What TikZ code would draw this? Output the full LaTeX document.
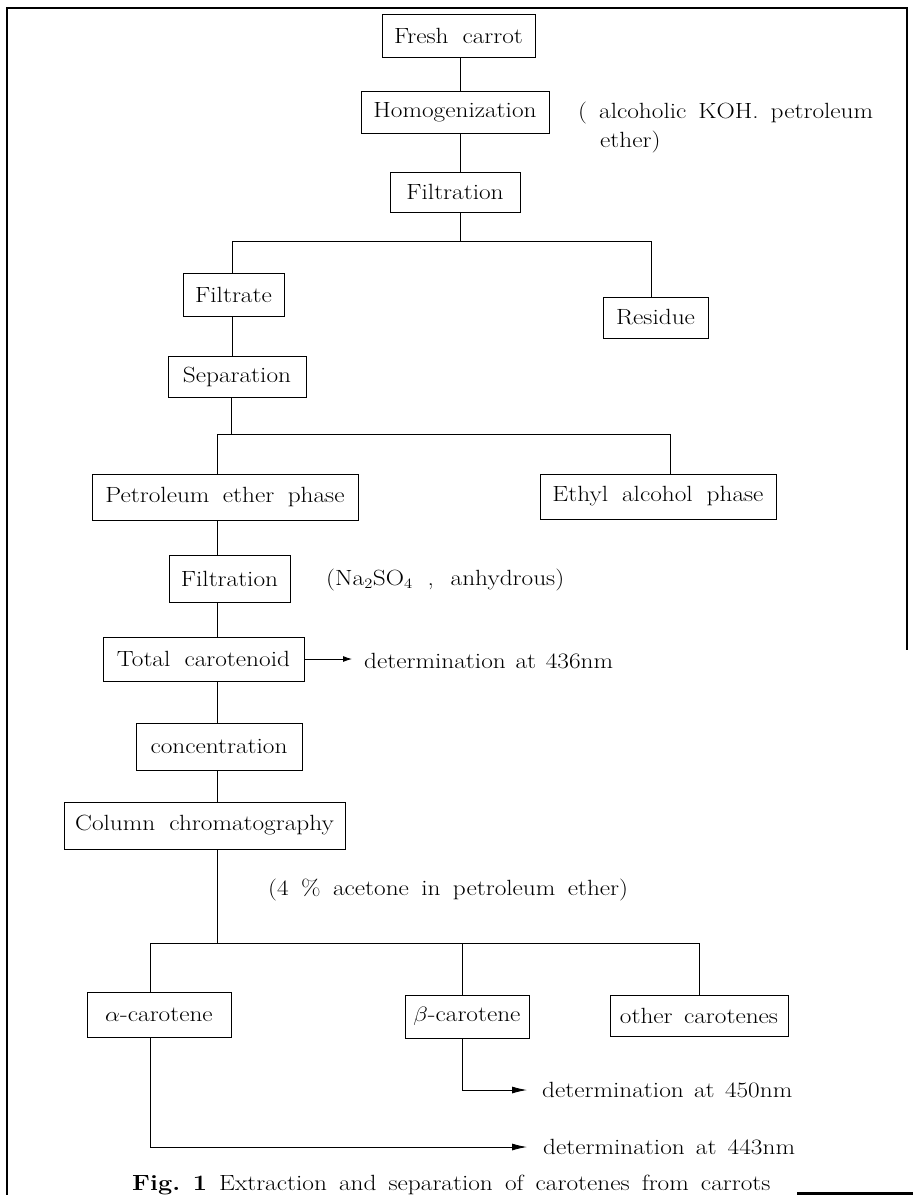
\documentclass[tikz,border=0pt]{standalone}
\usetikzlibrary{arrows.meta}
\newcommand\sw[1]{\scalebox{1.15}[1]{#1}}
\newcommand\mw[2]{\scalebox{1.15}[1]{\makebox[#1][s]{#2}}}
\begin{document}
\begin{tikzpicture}[x=1pt,y=-1pt,
  txt/.style={font=\fontsize{22}{26}\selectfont},
  box/.style={draw, line width=1pt, inner sep=0pt, txt},
  lbl/.style={inner sep=0pt, anchor=west, txt},
  conn/.style={line width=0.9pt},
  arr/.style={line width=0.9pt, -{Latex[length=15pt,width=7pt]}},
  sarr/.style={line width=0.9pt, -{Latex[length=9pt,width=6pt]}}]
\useasboundingbox (0,0) rectangle (913,1195);
% frame
\draw[line width=1.2pt] (7,1195) -- (7,8) -- (907,8) -- (907,650);
\draw[line width=2.2pt] (797,1193.5) -- (913,1193.5);
% boxes
\node[box, minimum width=153pt, minimum height=43pt] (fresh) at (458.5,35.5) {\mw{112pt}{Fresh carrot}};
\node[box, minimum width=188pt, minimum height=42pt] (homog) at (455,112) {\sw{Homogenization}};
\node[box, minimum width=130pt, minimum height=40pt] (filt1) at (455,192) {\sw{Filtration}};
\node[box, minimum width=101pt, minimum height=43pt] (filtrate) at (233.5,294.5) {\sw{Filtrate}};
\node[box, minimum width=105pt, minimum height=41pt] (residue) at (655.5,317.5) {\sw{Residue}};
\node[box, minimum width=138pt, minimum height=41pt] (separation) at (237,376.5) {\sw{Separation}};
\node[box, minimum width=266pt, minimum height=46pt] (petro) at (225,497) {\mw{208pt}{Petroleum ether phase}};
\node[box, minimum width=236pt, minimum height=45pt] (ethyl) at (658,496.5) {\mw{183.5pt}{Ethyl alcohol phase}};
\node[box, minimum width=121pt, minimum height=47pt] (filt2) at (229.5,578.5) {\sw{Filtration}};
\node[box, minimum width=201pt, minimum height=44pt] (total) at (203.5,659) {\mw{150.5pt}{Total carotenoid}};
\node[box, minimum width=166pt, minimum height=47pt] (conc) at (219,746.5) {\sw{concentration}};
\node[box, minimum width=281pt, minimum height=47pt] (column) at (204.5,825.5) {\mw{225pt}{Column chromatography}};
\node[box, minimum width=144pt, minimum height=45pt] (alpha) at (159,1014.5) {\sw{$\alpha$-carotene}};
\node[box, minimum width=124pt, minimum height=43pt] (beta) at (467,1016.5) {\sw{$\beta$-carotene}};
\node[box, minimum width=178pt, minimum height=41pt] (other) at (699,1015.5) {\mw{137.5pt}{other carotenes}};
% annotations
\node[lbl] (koh) at (578,113) {\mw{256.5pt}{( alcoholic KOH. petroleum}};
\node[lbl] (koh2) at (600,142) {\sw{ether)}};
\node[lbl] (na) at (326,580) {\mw{207pt}{(Na$_2$SO$_4$ , anhydrous)}};
\node[lbl] (acet) at (268,890) {\mw{313pt}{(4 \% acetone in petroleum ether)}};
\node[lbl] (det436) at (364,661) {\mw{216.5pt}{determination at 436nm}};
\node[lbl] (det450) at (542,1090) {\mw{217.5pt}{determination at 450nm}};
\node[lbl] (det443) at (543,1147) {\mw{219pt}{determination at 443nm}};
\node[anchor=base west, inner sep=0pt, txt] (cap) at (132,1190) {\mw{555pt}{{\bfseries\mbox{Fig. 1}} Extraction and separation of carotenes from carrots}};
% junctions
\coordinate (j1) at (460,241);
\coordinate (j1l) at (232,241);
\coordinate (j1r) at (651,241);
\coordinate (j2) at (231,434);
\coordinate (j2l) at (217,434);
\coordinate (j2r) at (670,434);
\coordinate (j3) at (217,943);
\coordinate (j3l) at (150,943);
\coordinate (j3m) at (462,943);
\coordinate (j3r) at (699,943);
% connectors
\draw[conn] (fresh.south -| j1) -- (homog.north -| j1);
\draw[conn] (homog.south -| j1) -- (filt1.north -| j1);
\draw[conn] (filt1.south -| j1) -- (j1);
\draw[conn] (filtrate.north -| j1l) -- (j1l) -- (j1r) -- (residue.north -| j1r);
\draw[conn] (filtrate.south -| j1l) -- (separation.north -| j1l);
\draw[conn] (separation.south -| j2) -- (j2);
\draw[conn] (petro.north -| j2l) -- (j2l) -- (j2r) -- (ethyl.north -| j2r);
\draw[conn] (petro.south -| j2l) -- (filt2.north -| j2l);
\draw[conn] (filt2.south -| j2l) -- (total.north -| j2l);
\draw[conn] (total.south -| j2l) -- (conc.north -| j2l);
\draw[conn] (conc.south -| j2l) -- (column.north -| j2l);
\draw[conn] (column.south -| j3) -- (j3);
\draw[conn] (alpha.north -| j3l) -- (j3l) -- (j3r) -- (other.north -| j3r);
\draw[conn] (j3m) -- (beta.north -| j3m);
\draw[sarr, shorten >=12pt] (total.east) -- (total.east -| det436.west);
\draw[arr, shorten >=15pt] (beta.south -| j3m) -- (j3m |- det450.west) -- (det450.west);
\draw[arr, shorten >=16pt] (alpha.south -| j3l) -- (j3l |- det443.west) -- (det443.west);
\end{tikzpicture}
\end{document}
